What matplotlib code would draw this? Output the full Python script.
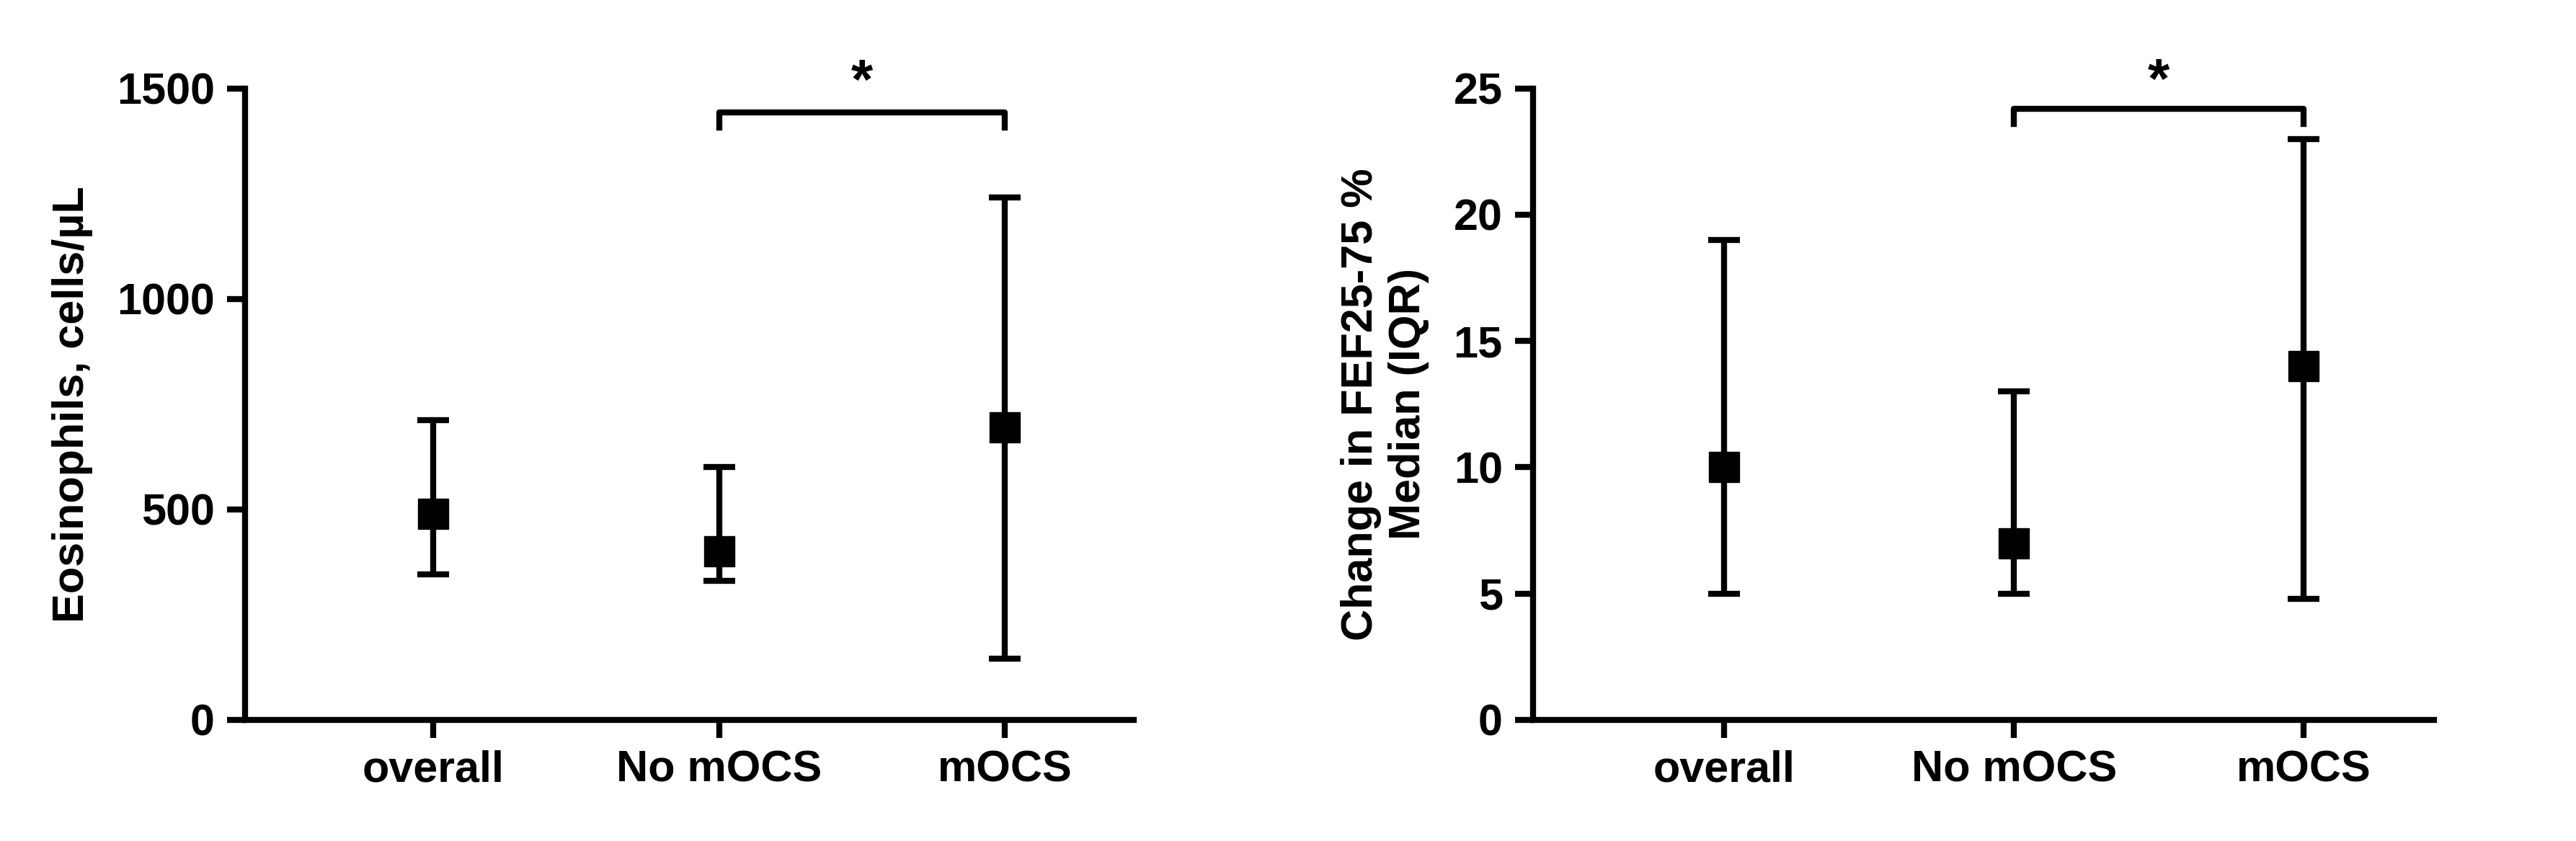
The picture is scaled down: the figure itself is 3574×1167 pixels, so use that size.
import matplotlib.pyplot as plt

groups = ["overall", "No mOCS", "mOCS"]
eos_median = [490, 400, 695]
eos_q1 = [345, 330, 145]
eos_q3 = [712, 600, 1240]
fef_median = [10, 7, 14]
fef_q1 = [5, 5, 4.8]
fef_q3 = [19, 13, 23]

plt.rcParams['font.family'] = ['Liberation Sans', 'DejaVu Sans']
plt.rcParams['font.weight'] = 'bold'

fig = plt.figure(figsize=(35.74, 11.67), dpi=100)
ax1 = fig.add_axes([0.095, 0.144, 0.345, 0.751])
ax2 = fig.add_axes([0.595, 0.144, 0.35, 0.751])


def panel(ax, med, lo, hi, ymax, yticks, ylabel, bracket_y, star_y):
    x = range(len(groups))
    err = [[m - l for m, l in zip(med, lo)], [h - m for m, h in zip(med, hi)]]
    ax.errorbar(x, med, yerr=err, fmt='s', color='black', ms=30,
                elinewidth=6, capsize=16, capthick=6)
    ax.set_xlim(-0.66, 2.45)
    ax.set_ylim(0, ymax)
    ax.set_yticks(yticks)
    ax.set_xticks(list(x))
    ax.set_xticklabels(groups)
    for s in ['top', 'right']:
        ax.spines[s].set_visible(False)
    for s in ['left', 'bottom']:
        ax.spines[s].set_linewidth(6)
    ax.tick_params(width=6, length=18, labelsize=44, pad=12)
    ax.set_ylabel(ylabel, fontsize=44, fontweight='bold', labelpad=24)
    ax.plot([1, 1, 2, 2], [bracket_y * 0.975, bracket_y, bracket_y, bracket_y * 0.975],
            color='black', lw=6, clip_on=False)
    ax.text(1.5, star_y, '*', ha='center', va='center', fontsize=56, fontweight='bold')


panel(ax1, eos_median, eos_q1, eos_q3, 1500, [0, 500, 1000, 1500],
      'Eosinophils, cells/µL', 1443, 1510)
panel(ax2, fef_median, fef_q1, fef_q3, 25, [0, 5, 10, 15, 20, 25],
      'Change in FEF25-75 %\nMedian (IQR)', 24.2, 25.2)

fig.savefig('out.png', dpi=100)
